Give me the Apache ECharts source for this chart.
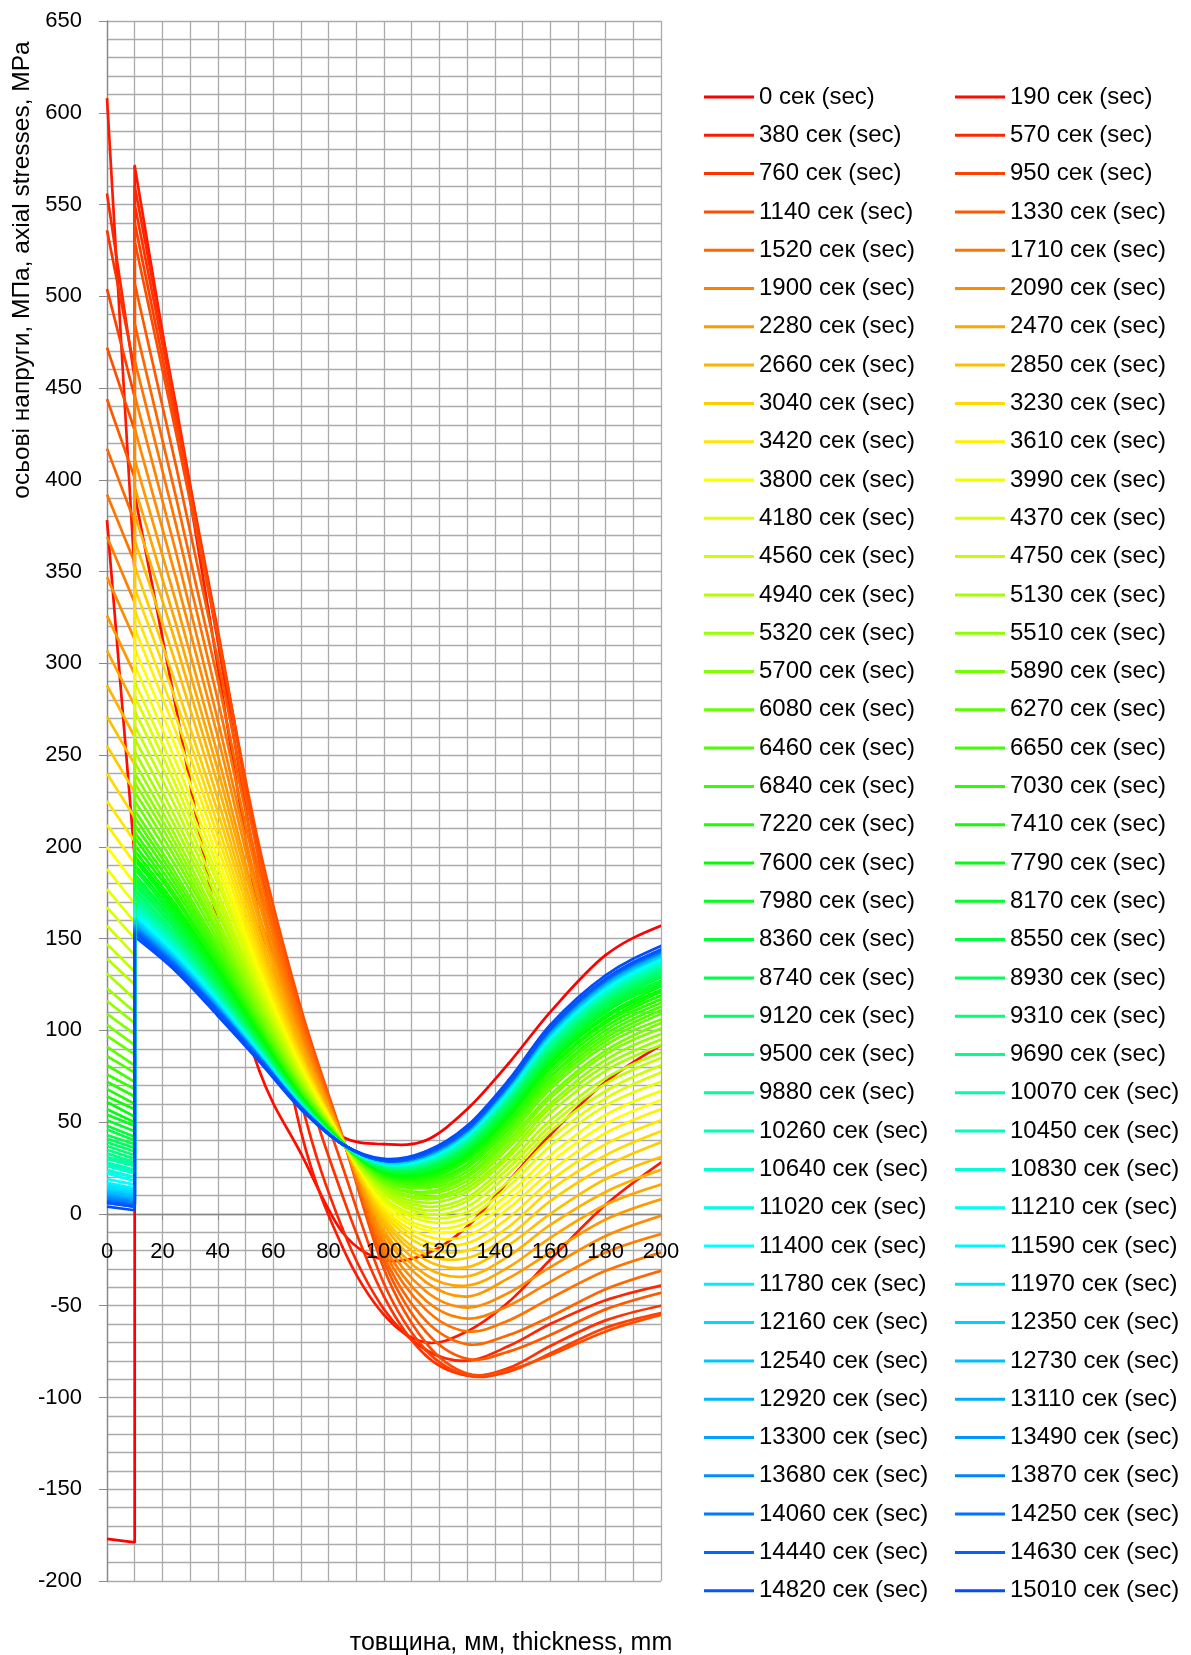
<!DOCTYPE html>
<html>
<head>
<meta charset="utf-8">
<script src="https://cdn.jsdelivr.net/npm/echarts@6/dist/echarts.min.js"></script>
<style>html,body{margin:0;padding:0;background:#fff}#chart{width:1191px;height:1655px}</style>
</head>
<body>
<div id="chart"></div>
<script>
// ---- data ----
const timesSec = [0,190,380,570,760,950,1140,1330,1520,1710,1900,2090,2280,2470,2660,2850,3040,3230,3420,3610,
3800,3990,4180,4370,4560,4750,4940,5130,5320,5510,5700,5890,6080,6270,6460,6650,6840,7030,7220,7410,
7600,7790,7980,8170,8360,8550,8740,8930,9120,9310,9500,9690,9880,10070,10260,10450,10640,10830,11020,11210,
11400,11590,11780,11970,12160,12350,12540,12730,12920,13110,13300,13490,13680,13870,14060,14250,14440,14630,14820,15010];

const xStrip = [0, 10];                 // cladding layer, mm
const xMain = [10,25,40,55,70,85,100,115,130,145,160,180,200]; // base metal, mm

const xTicks = [0,20,40,60,80,100,120,140,160,180,200];
const yTicks = [-200,-150,-100,-50,0,50,100,150,200,250,300,350,400,450,500,550,600,650];

// stress at x=0 and x=10 inside the cladding, MPa
const stripValues = [
[-177,-179],[378,194],[608,348],[556,455],[536,460],[504,445],[472,427],[444,401],[417,377],[392,355],
[369,333],[347,313],[326,294],[307,277],[288,260],[271,245],[255,230],[240,216],[225,203],[212,191],
[200,180],[188,169],[177,159],[167,150],[157,141],[147,132],[139,125],[131,117],[123,110],[116,104],
[109,98],[103,92],[97,87],[91,81],[86,77],[81,72],[76,68],[72,64],[68,60],[64,57],
[61,53],[57,50],[54,48],[51,45],[48,42],[46,40],[43,38],[41,36],[39,34],[37,32],
[35,30],[33,28],[31,27],[30,26],[28,24],[27,23],[26,22],[24,20],[23,20],[22,18],
[19,16],[17,14],[16,13],[15,12],[14,11],[13,10],[12,10],[12,9],[11,8],[10,8],
[10,7],[9,7],[9,6],[8,6],[8,5],[7,5],[7,4],[6,4],[6,4],[4,2]];

// stress in the base metal at xMain, MPa
const mainValues = [
[158,138,115,92,62,42,38,40,57,82,110,141,157],
[392,275,158,78,33,-10,-25,-22,-7,18,43,72,92],
[571,435,298,160,45,-18,-55,-70,-64,-48,-25,5,28],
[560,440,312,178,62,-8,-52,-74,-80,-72,-60,-47,-39],
[550,436,318,192,82,10,-45,-77,-88,-84,-72,-58,-50],
[540,430,316,196,96,26,-38,-74,-88,-86,-76,-62,-54],
[530,425,315,200,112,42,-30,-70,-87,-85,-77,-64,-55],
[507,407,302,193,109,42,-26,-64,-79,-75,-66,-52,-43],
[485,390,291,186,106,42,-23,-58,-71,-66,-56,-41,-31],
[465,375,280,180,103,41,-20,-52,-64,-58,-46,-31,-21],
[446,360,269,174,100,41,-17,-47,-57,-50,-37,-21,-11],
[428,346,260,169,97,41,-14,-42,-51,-43,-29,-12,-1],
[411,333,250,163,95,41,-11,-37,-45,-35,-21,-3,8],
[396,321,242,159,93,41,-9,-33,-39,-29,-13,5,16],
[381,310,234,154,90,40,-6,-29,-34,-23,-6,12,24],
[367,299,226,150,88,40,-4,-25,-29,-17,0,19,31],
[353,288,219,146,86,40,-2,-22,-24,-12,7,26,39],
[341,279,212,142,85,40,0,-18,-20,-7,13,32,45],
[329,270,206,138,83,40,2,-15,-16,-2,18,38,51],
[319,262,200,135,81,40,3,-12,-12,3,23,44,57],
[308,254,194,132,80,40,5,-9,-8,7,28,49,62],
[299,246,189,129,79,40,7,-7,-5,11,32,54,67],
[290,239,184,126,77,40,8,-4,-2,15,37,59,72],
[282,233,180,124,76,39,9,-2,1,18,41,63,77],
[274,227,175,121,75,39,11,0,4,22,45,67,81],
[266,221,171,119,74,39,12,2,7,25,48,71,85],
[259,215,167,117,73,39,13,4,9,28,51,74,88],
[252,210,164,115,72,39,14,6,12,31,55,78,92],
[246,205,160,113,71,39,15,8,14,33,58,81,95],
[240,201,157,111,70,39,16,9,16,36,60,84,98],
[235,197,154,109,69,39,17,11,18,38,63,87,101],
[230,193,152,108,69,39,17,12,20,40,65,89,104],
[225,189,149,106,68,39,18,14,21,42,68,92,106],
[220,185,146,105,67,39,19,15,23,44,70,94,109],
[216,182,144,103,67,39,20,16,25,46,72,96,111],
[212,179,142,102,66,39,20,17,26,47,74,98,113],
[208,176,140,101,65,39,21,18,27,49,75,100,115],
[205,173,138,100,65,39,21,19,29,50,77,102,117],
[201,171,136,99,64,39,22,20,30,52,79,104,119],
[198,168,134,98,64,39,22,21,31,53,80,105,121],
[195,166,133,97,64,38,23,22,32,54,82,107,122],
[193,164,131,96,63,38,23,22,33,55,83,108,124],
[190,162,130,95,63,38,24,23,34,56,84,110,125],
[188,160,129,95,62,38,24,24,35,57,85,111,126],
[185,158,127,94,62,38,24,24,35,58,86,112,127],
[183,157,126,93,62,38,25,25,36,59,87,113,129],
[181,155,125,93,62,38,25,26,37,60,88,114,130],
[179,154,124,92,61,38,25,26,38,61,89,115,131],
[177,152,123,91,61,38,26,27,38,62,90,116,132],
[176,151,122,91,61,38,26,27,39,62,91,117,132],
[174,150,121,90,61,38,26,27,39,63,91,118,133],
[173,149,120,90,60,38,26,28,40,64,92,118,134],
[171,148,120,90,60,38,27,28,40,64,93,119,135],
[170,147,119,89,60,38,27,29,41,65,94,120,135],
[169,146,118,89,60,38,27,29,41,65,94,120,136],
[168,145,118,89,60,38,27,29,42,66,95,121,137],
[167,144,117,88,59,38,27,29,42,66,95,122,137],
[166,143,117,88,59,38,28,30,43,67,96,122,138],
[165,143,116,88,59,38,28,30,43,67,96,122,138],
[164,142,115,87,59,38,28,30,43,67,97,123,139],
[163,141,115,87,59,38,28,31,43,68,97,123,139],
[162,140,115,87,59,38,28,31,44,68,97,124,140],
[161,140,114,87,59,38,28,31,44,68,98,124,140],
[161,139,114,86,59,38,28,31,44,69,98,125,140],
[160,139,114,86,59,38,28,31,44,69,98,125,141],
[160,138,113,86,58,38,29,31,45,69,98,125,141],
[159,138,113,86,58,38,29,32,45,69,99,125,141],
[158,138,113,86,58,38,29,32,45,70,99,126,142],
[158,137,112,85,58,38,29,32,45,70,99,126,142],
[157,137,112,85,58,38,29,32,45,70,100,126,142],
[157,136,112,85,58,38,29,32,46,70,100,127,142],
[156,136,112,85,58,38,29,32,46,70,100,127,143],
[156,136,111,85,58,38,29,32,46,70,100,127,143],
[156,135,111,85,58,38,29,32,46,71,100,127,143],
[155,135,111,85,58,38,29,33,46,71,101,127,143],
[155,135,111,85,58,38,29,33,46,71,101,128,143],
[154,134,111,84,58,38,29,33,46,71,101,128,144],
[154,134,110,84,58,38,29,33,46,71,101,128,144],
[153,133,110,84,58,38,29,33,47,71,101,128,144],
[151,132,108,83,57,38,30,34,48,73,103,130,146]];

const yAxisTitle = 'осьові напруги, МПа, axial stresses, MPa';
const xAxisTitle = 'товщина, мм, thickness, mm';

// ---- styling / building ----
const FONT = '"Liberation Sans", Arial, sans-serif';
const LINE_W = 2.7;
const GRID_C = '#ababab';
function colorFor(k) {
  const h = k <= 60 ? 3 * k : 180 + (k - 60) * 2.2;
  return 'hsl(' + h.toFixed(1) + ',100%,50%)';
}
const names = timesSec.map(t => t + ' сек (sec)');

// smooth curve through the points (cubic Hermite in pixel space, slopes by finite differences)
function makeRenderItem(vals, color) {
  return function (params, api) {
    const i = params.dataIndex, n = xMain.length;
    if (i >= n - 1) return null;
    const pts = xMain.map((x, j) => api.coord([x, vals[j]]));
    const sec = (a, b) => (pts[b][1] - pts[a][1]) / (pts[b][0] - pts[a][0]);
    const slope = j => {
      if (j === 0) return (3 * sec(0, 1) - sec(0, 2)) / 2;
      if (j === n - 1) return (3 * sec(n - 2, n - 1) - sec(n - 3, n - 1)) / 2;
      return sec(j - 1, j + 1);
    };
    const h = pts[i + 1][0] - pts[i][0];
    const m0 = slope(i), m1 = slope(i + 1);
    return {
      type: 'bezierCurve',
      shape: {
        x1: pts[i][0], y1: pts[i][1], x2: pts[i + 1][0], y2: pts[i + 1][1],
        cpx1: pts[i][0] + h / 3, cpy1: pts[i][1] + m0 * h / 3,
        cpx2: pts[i + 1][0] - h / 3, cpy2: pts[i + 1][1] - m1 * h / 3
      },
      style: {stroke: color, fill: null, lineWidth: LINE_W, lineCap: 'round'}
    };
  };
}

const series = [];
timesSec.forEach((t, k) => {
  const c = colorFor(k);
  const vals = mainValues[k];
  series.push({
    type: 'line', name: names[k], symbol: 'none', showSymbol: false,
    lineStyle: {width: LINE_W, color: c}, itemStyle: {color: c}, emphasis: {disabled: true},
    silent: true, z: 2,
    data: [[xStrip[0], stripValues[k][0]], [xStrip[1], stripValues[k][1]], [xMain[0], vals[0]]]
  });
  series.push({
    type: 'custom', name: names[k], coordinateSystem: 'cartesian2d', silent: true, z: 2,
    itemStyle: {color: c}, clip: true,
    encode: {x: 0, y: 1},
    data: xMain.map((x, i) => [x, vals[i]]),
    renderItem: makeRenderItem(vals, c)
  });
});

const legendCommon = {
  orient: 'vertical', top: 85, padding: 0, itemWidth: 50, itemHeight: 3, itemGap: 14.3,
  icon: 'rect',
  textStyle: {fontSize: 24, lineHeight: 24, color: '#000', fontFamily: FONT}
};

// y = 0 lies 200/850 of the plot height above the bottom edge
const plotH = 1655 - 21 - 74;
const zeroOffset = -plotH * (0 - yTicks[0]) / (yTicks[yTicks.length - 1] - yTicks[0]);
const xCommon = {type: 'value', min: xTicks[0], max: xTicks[xTicks.length - 1], interval: xTicks[1] - xTicks[0],
  position: 'bottom', offset: zeroOffset};

const chart = echarts.init(document.getElementById('chart'), null, {renderer: 'canvas'});
chart.setOption({
  animation: false,
  backgroundColor: '#ffffff',
  grid: {left: 107, right: 530, top: 21, bottom: 74, containLabel: false},
  xAxis: [
    Object.assign({}, xCommon, {
      axisLine: {show: true, onZero: false, lineStyle: {color: '#888', width: 1.3}},
      axisTick: {show: true, length: 6, lineStyle: {color: '#888'}},
      minorTick: {show: false, splitNumber: 2},
      splitLine: {show: true, lineStyle: {color: GRID_C, width: 1.3}},
      minorSplitLine: {show: true, lineStyle: {color: GRID_C, width: 1.3}},
      axisLabel: {show: false}
    }),
    Object.assign({}, xCommon, {
      z: 10,
      axisLine: {show: false, onZero: false},
      axisTick: {show: false},
      splitLine: {show: false},
      axisLabel: {fontSize: 22, color: '#000', fontFamily: FONT, margin: 27}
    })
  ],
  yAxis: {
    type: 'value', min: yTicks[0], max: yTicks[yTicks.length - 1], interval: yTicks[1] - yTicks[0],
    axisLine: {show: true, onZero: false, lineStyle: {color: '#888', width: 1.3}},
    axisTick: {show: true, length: 8, lineStyle: {color: '#888'}},
    minorTick: {show: false, splitNumber: 5},
    splitLine: {show: true, lineStyle: {color: GRID_C, width: 1.3}},
    minorSplitLine: {show: true, lineStyle: {color: GRID_C, width: 1.3}},
    axisLabel: {fontSize: 22, color: '#000', fontFamily: FONT, margin: 25}
  },
  legend: [
    Object.assign({}, legendCommon, {left: 704, data: names.filter((n, i) => i % 2 === 0)}),
    Object.assign({}, legendCommon, {left: 955, data: names.filter((n, i) => i % 2 === 1)})
  ],
  graphic: [
    {type: 'text', x: 22, y: 270, rotation: Math.PI / 2,
     style: {text: yAxisTitle, fontSize: 24.5, fontFamily: FONT, fill: '#000',
             textAlign: 'center', textVerticalAlign: 'middle', align: 'center', verticalAlign: 'middle'}},
    {type: 'text', x: 511, y: 1643,
     style: {text: xAxisTitle, fontSize: 25, fontFamily: FONT, fill: '#000',
             textAlign: 'center', textVerticalAlign: 'middle', align: 'center', verticalAlign: 'middle'}}
  ],
  series: series
});
</script>
</body>
</html>
